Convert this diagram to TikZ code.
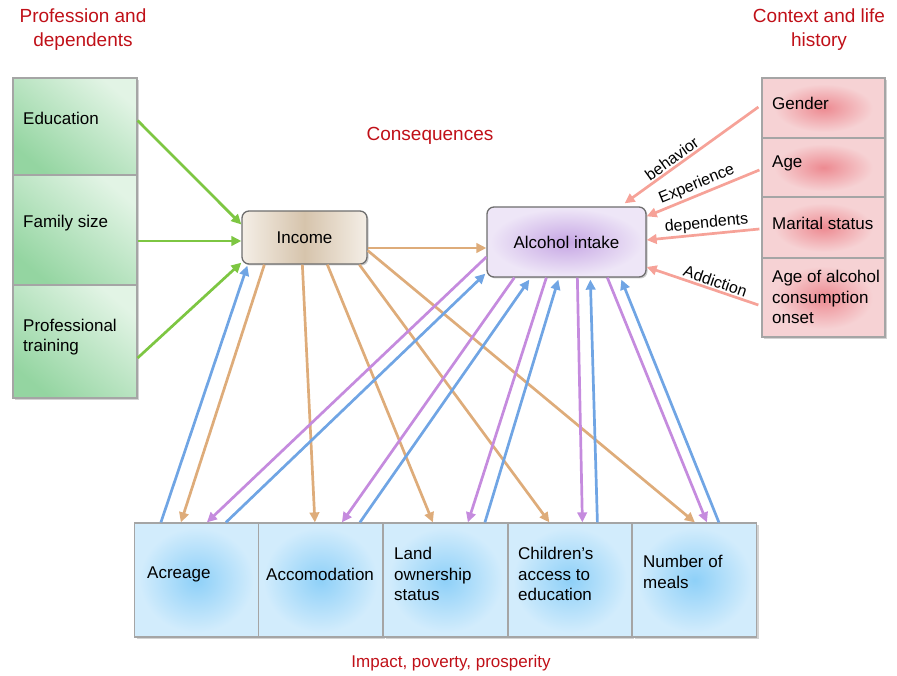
\documentclass[tikz,border=0pt]{standalone}
\usepackage{fontspec}
\setmainfont{Liberation Sans}
\usetikzlibrary{arrows.meta,shadows}
\definecolor{titred}{RGB}{192,16,24}
\definecolor{boxgray}{RGB}{165,165,165}
\definecolor{nodegray}{RGB}{110,110,110}
\definecolor{grLt}{RGB}{226,244,229}
\definecolor{grDk}{RGB}{148,213,161}
\definecolor{pkC}{RGB}{237,138,145}
\definecolor{pkO}{RGB}{246,210,212}
\definecolor{blC}{RGB}{142,208,248}
\definecolor{blO}{RGB}{210,236,252}
\definecolor{inO}{RGB}{244,238,230}
\definecolor{inM}{RGB}{214,196,172}
\definecolor{alC}{RGB}{198,166,228}
\definecolor{alO}{RGB}{238,230,247}
\definecolor{cGreen}{RGB}{125,198,66}
\definecolor{cTan}{RGB}{222,172,122}
\definecolor{cPurp}{RGB}{197,139,222}
\definecolor{cBlue}{RGB}{112,165,228}
\definecolor{cPink}{RGB}{246,162,152}
\pgfdeclareradialshading{pinkglow}{\pgfpoint{0bp}{0bp}}{color(0bp)=(pkC); color(20bp)=(pkO); color(50bp)=(pkO)}
\pgfdeclareradialshading{blueglow}{\pgfpoint{0bp}{0bp}}{color(0bp)=(blC); color(23bp)=(blO); color(50bp)=(blO)}
\pgfdeclareradialshading{purpglow}{\pgfpoint{0bp}{0bp}}{color(0bp)=(alC); color(24bp)=(alO); color(50bp)=(alO)}
\begin{document}
\begin{tikzpicture}[x=1pt,y=-1pt,
  box/.style={draw=boxgray, line width=1.2pt, inner sep=0pt,
    drop shadow={shadow xshift=2pt, shadow yshift=-2pt, opacity=0.35}},
  lbox/.style={box, minimum width=124pt, bottom color=grDk, top color=grLt, shading angle=-40},
  rbox/.style={box, minimum width=123pt, shading=pinkglow},
  bbox/.style={box, minimum width=124pt, minimum height=114pt, shading=blueglow},
  cnode/.style={draw=nodegray, line width=1.3pt, rounded corners=7pt, inner sep=0pt,
    font=\fontsize{17}{20.5}\selectfont,
    drop shadow={shadow xshift=1.5pt, shadow yshift=-1.5pt, opacity=0.4}},
  txt/.style={font=\fontsize{17}{20.5}\selectfont, align=left, inner sep=0pt, anchor=west},
  title/.style={font=\fontsize{19}{24}\selectfont, text=titred, align=center, inner sep=0pt},
  lab/.style={font=\fontsize{16}{18}\selectfont, sloped, above, inner sep=1.5pt},
  arr/.style={line width=2.7pt, -{Triangle[length=10pt,width=9.5pt]}},
  garr/.style={arr, draw=cGreen},
  tarr/.style={arr, draw=cTan},
  parr/.style={arr, draw=cPurp},
  barr/.style={arr, draw=cBlue},
  karr/.style={arr, draw=cPink}]
\useasboundingbox (0,0) rectangle (897,676);

% titles
\node[title] (t1) at (83,30) {Profession and\\dependents};
\node[title] (t2) at (819,30) {Context and life\\history};
\node[title] (t3) at (430,136) {Consequences};
\node[title, font=\fontsize{17}{20}\selectfont] (t4) at (451,663) {Impact, poverty, prosperity};

% left boxes
\node[lbox, minimum height=97pt] (edu) at (75,126.5) {};
\node[lbox, minimum height=110pt] (fam) at (75,230) {};
\node[lbox, minimum height=113pt] (pro) at (75,341.5) {};
\node[txt] (edut) at (23,118) {Education};
\node[txt] (famt) at (23,223) {Family size};
\node[txt] (prot) at (23,337) {Professional\\training};

% right boxes
\node[rbox, minimum height=60pt] (gen) at (823.5,108) {};
\node[rbox, minimum height=59pt] (age) at (823.5,167.5) {};
\node[rbox, minimum height=61pt] (mar) at (823.5,227.5) {};
\node[rbox, minimum height=79pt] (ons) at (823.5,297.5) {};
\node[txt] (gent) at (772,103) {Gender};
\node[txt] (aget) at (772,163) {Age};
\node[txt] (mart) at (772,223) {Marital status};
\node[txt] (onst) at (772,297) {Age of alcohol\\consumption\\onset};

% bottom boxes
\node[bbox] (acr) at (196.5,580) {};
\node[bbox] (acc) at (320.5,580) {};
\node[bbox] (lan) at (445.5,580) {};
\node[bbox] (chi) at (570,580) {};
\node[bbox] (mea) at (694.5,580) {};
\node[txt] (acrt) at (147,574) {Acreage};
\node[txt] (acct) at (266,574) {Accomodation};
\node[txt] (lant) at (394,574) {Land\\ownership\\status};
\node[txt] (chit) at (518,574) {Children’s\\access to\\education};
\node[txt] (meat) at (643,572) {Number of\\meals};

% central nodes
\node[cnode, minimum width=125pt, minimum height=53pt,
  left color=inO, right color=inO, middle color=inM] (inc) at (304.5,237.5) {Income};
\node[cnode, minimum width=159pt, minimum height=70pt, shading=purpglow] (alc) at (566.5,242) {Alcohol intake};

% green arrows
\draw[garr] ([yshift=6pt]edu.east) -- ([yshift=13pt]inc.west);
\draw[garr] ([yshift=-11pt]fam.east) -- ([yshift=-3.5pt]inc.west);
\draw[garr] ([yshift=-16.5pt]pro.east) -- ([yshift=2pt]inc.south west);

% income -> alcohol
\draw[tarr] ([yshift=-10.5pt]inc.east) -- ([yshift=-6pt]alc.west);

% income -> outcomes
\draw[tarr] ([xshift=23pt]inc.south west) -- ([xshift=47pt]acr.north west);
\draw[tarr] ([xshift=61pt]inc.south west) -- ([xshift=57pt]acc.north west);
\draw[tarr] ([xshift=86pt]inc.south west) -- ([xshift=50pt]lan.north west);
\draw[tarr] ([xshift=118pt]inc.south west) -- ([xshift=42pt]chi.north west);
\draw[tarr] ([yshift=-13pt]inc.east) -- ([xshift=63pt]mea.north west);

% outcome -> income
\draw[barr] ([xshift=27pt]acr.north west) -- ([xshift=6pt,yshift=-1pt]inc.south west);

% alcohol -> outcomes
\draw[parr] ([yshift=-15pt]alc.west) -- ([xshift=73pt]acr.north west);
\draw[parr] ([xshift=28pt]alc.south west) -- ([xshift=84pt]acc.north west);
\draw[parr] ([xshift=60pt]alc.south west) -- ([xshift=85pt]lan.north west);
\draw[parr] ([xshift=91pt]alc.south west) -- ([xshift=75pt]chi.north west);
\draw[parr] ([xshift=121pt]alc.south west) -- ([xshift=75pt]mea.north west);

% outcomes -> alcohol
\draw[barr] ([xshift=92pt]acr.north west) -- ([xshift=-1pt,yshift=4pt]alc.south west);
\draw[barr] ([xshift=102pt]acc.north west) -- ([xshift=43pt,yshift=-2pt]alc.south west);
\draw[barr] ([xshift=102pt]lan.north west) -- ([xshift=72pt,yshift=-2pt]alc.south west);
\draw[barr] ([xshift=90pt]chi.north west) -- ([xshift=104pt,yshift=-2pt]alc.south west);
\draw[barr] ([xshift=87pt]mea.north west) -- ([xshift=135pt,yshift=-2pt]alc.south west);

% context -> alcohol
\draw[karr] ([xshift=-3pt,yshift=1pt]gen.west) -- node[lab, pos=0.61] (l1) {behavior} ([xshift=-22pt,yshift=3pt]alc.north east);
\draw[karr] ([xshift=-2pt,yshift=-2.5pt]age.west) -- node[lab, pos=0.52] (l2) {Experience} ([yshift=-10pt]alc.north east);
\draw[karr] ([xshift=-2pt,yshift=-1.5pt]mar.west) -- node[lab, pos=0.46] (l3) {dependents} ([yshift=2pt]alc.east);
\draw[karr] ([xshift=-3pt,yshift=-7.5pt]ons.west) -- node[lab, pos=0.41] (l4) {Addiction} ([yshift=-25pt]alc.east);
\end{tikzpicture}
\end{document}
